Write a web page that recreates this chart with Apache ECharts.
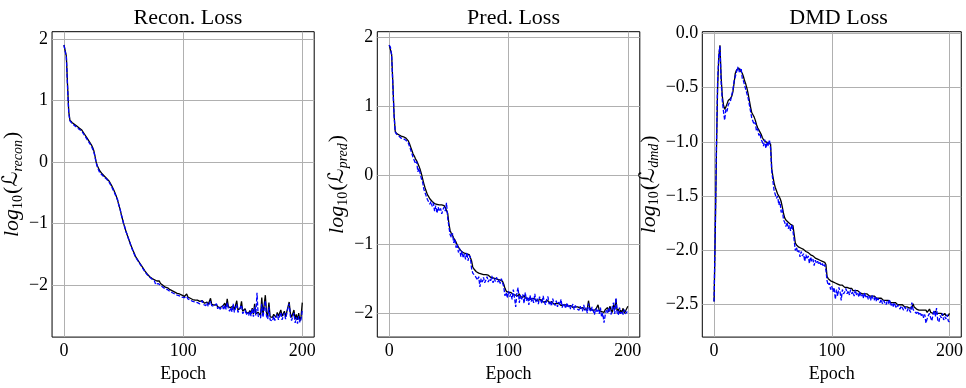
<!DOCTYPE html>
<html>
<head>
<meta charset="utf-8">
<script src="https://cdn.jsdelivr.net/npm/echarts@6/dist/echarts.min.js"></script>
<style>
html,body{margin:0;padding:0;background:#fff;}
#chart{width:966px;height:388px;}
</style>
</head>
<body>
<div id="chart"></div>
<script>
// ---- Data (epochs 0..200) ----
const epochs = Array.from({length: 201}, (_, i) => i);
const xTicks = [0, 100, 200];
const reconTicks = [-2, -1, 0, 1, 2];
const predTicks = [-2, -1, 0, 1, 2];
const dmdTicks = [-2.5, -2.0, -1.5, -1.0, -0.5, 0.0];
const titles = ['Recon. Loss', 'Pred. Loss', 'DMD Loss'];

const reconBlack = [
1.90, 1.88, 1.72, 1.25, 0.82, 0.68,
0.66, 0.64, 0.63, 0.61, 0.60,
0.58, 0.57, 0.55, 0.54, 0.52,
0.49, 0.46, 0.43, 0.40, 0.37,
0.34, 0.31, 0.28, 0.24, 0.19,
0.10, 0.00, -0.06, -0.10, -0.14,
-0.17, -0.19, -0.21, -0.23, -0.25,
-0.27, -0.29, -0.31, -0.34, -0.38,
-0.42, -0.46, -0.51, -0.56, -0.62,
-0.69, -0.76, -0.84, -0.92, -0.99,
-1.06, -1.12, -1.18, -1.23, -1.29,
-1.34, -1.39, -1.44, -1.48, -1.53,
-1.56, -1.59, -1.62, -1.65, -1.68,
-1.71, -1.74, -1.77, -1.79, -1.82,
-1.84, -1.86, -1.87, -1.89, -1.90,
-1.91, -1.92, -1.93, -1.94, -1.93,
-1.97, -1.99, -2.00, -2.01, -2.03, -2.03, -2.04, -2.05, -2.07, -2.08,
-2.09, -2.10, -2.11, -2.12, -2.13, -2.14, -2.14, -2.15, -2.16, -2.16,
-2.18, -2.17, -2.14, -2.19, -2.20, -2.21, -2.20, -2.23, -2.22, -2.24,
-2.25, -2.24, -2.27, -2.26, -2.28, -2.25, -2.22, -2.29, -2.30, -2.27,
-2.31, -2.30, -2.21, -2.31, -2.33, -2.32, -2.34, -2.31, -2.35, -2.33,
-2.36, -2.35, -2.34, -2.37, -2.29, -2.36, -2.22, -2.35, -2.38, -2.36,
-2.39, -2.33, -2.40, -2.38, -2.25, -2.40, -2.41, -2.37, -2.26, -2.42,
-2.43, -2.38, -2.44, -2.42, -2.45, -2.41, -2.46, -2.37, -2.47, -2.30,
-2.46, -2.48, -2.44, -2.47, -2.49, -2.20, -2.48, -2.50, -2.16, -2.45,
-2.50, -2.28, -2.51, -2.49, -2.52, -2.47, -2.50, -2.52, -2.44, -2.50,
-2.45, -2.40, -2.50, -2.53, -2.42, -2.51, -2.48, -2.35, -2.27, -2.45,
-2.52, -2.54, -2.40, -2.55, -2.47, -2.56, -2.45, -2.58, -2.50, -2.28
];
const reconBlue = [
1.90, 1.87, 1.70, 1.22, 0.80, 0.67,
0.65, 0.62, 0.64, 0.59, 0.61,
0.56, 0.58, 0.53, 0.55, 0.50,
0.49, 0.44, 0.44, 0.38, 0.37,
0.32, 0.31, 0.26, 0.24, 0.17,
0.09, -0.01, -0.08, -0.10, -0.17,
-0.16, -0.21, -0.20, -0.25, -0.24,
-0.28, -0.28, -0.33, -0.33, -0.40,
-0.41, -0.48, -0.50, -0.57, -0.61,
-0.70, -0.75, -0.85, -0.91, -1.00,
-1.05, -1.13, -1.17, -1.24, -1.28,
-1.35, -1.38, -1.45, -1.47, -1.54,
-1.55, -1.60, -1.61, -1.66, -1.67,
-1.72, -1.73, -1.78, -1.78, -1.83,
-1.83, -1.87, -1.86, -1.90, -1.89,
-1.93, -1.99, -2.00, -1.97, -1.98,
-2.00, -2.00, -2.03, -2.02, -2.06, -2.04, -2.07, -2.06, -2.10, -2.09,
-2.12, -2.11, -2.14, -2.13, -2.16, -2.15, -2.17, -2.16, -2.19, -2.18,
-2.20, -2.19, -2.18, -2.22, -2.21, -2.24, -2.22, -2.26, -2.23, -2.27,
-2.26, -2.28, -2.27, -2.30, -2.27, -2.25, -2.31, -2.29, -2.33, -2.28,
-2.34, -2.30, -2.26, -2.33, -2.35, -2.34, -2.36, -2.30, -2.38, -2.34,
-2.39, -2.37, -2.33, -2.40, -2.32, -2.39, -2.28, -2.38, -2.42, -2.36,
-2.43, -2.30, -2.44, -2.37, -2.31, -2.44, -2.45, -2.36, -2.32, -2.46,
-2.47, -2.40, -2.48, -2.44, -2.49, -2.42, -2.50, -2.38, -2.51, -2.35,
-2.49, -2.12, -2.50, -2.48, -2.53, -2.30, -2.52, -2.54, -2.25, -2.50,
-2.55, -2.35, -2.56, -2.53, -2.58, -2.50, -2.57, -2.59, -2.47, -2.56,
-2.50, -2.44, -2.56, -2.58, -2.45, -2.55, -2.52, -2.36, -2.30, -2.50,
-2.57, -2.60, -2.45, -2.61, -2.52, -2.62, -2.50, -2.60, -2.55, -2.40
];

const predBlack = [
1.89, 1.87, 1.76, 1.35, 0.90, 0.64,
0.61, 0.60, 0.59, 0.58, 0.57,
0.56, 0.56, 0.55, 0.54, 0.53,
0.50, 0.46, 0.41, 0.36, 0.31,
0.28, 0.24, 0.21, 0.17, 0.13,
0.08, 0.02, -0.05, -0.12, -0.18,
-0.23, -0.28, -0.31, -0.34, -0.36,
-0.38, -0.39, -0.41, -0.40, -0.42,
-0.41, -0.43, -0.44, -0.43, -0.45,
-0.44, -0.47, -0.45, -0.55, -0.70,
-0.80, -0.84, -0.87, -0.91, -0.94,
-0.97, -1.01, -1.04, -1.07, -1.09,
-1.11, -1.12, -1.13, -1.15, -1.14,
-1.16, -1.15, -1.17, -1.24, -1.33,
-1.36, -1.38, -1.40, -1.41, -1.42,
-1.41, -1.43, -1.42, -1.44, -1.45,
-1.44, -1.46, -1.45, -1.47, -1.48, -1.46, -1.49, -1.48, -1.50, -1.49,
-1.51, -1.50, -1.52, -1.51, -1.54, -1.58, -1.64, -1.68, -1.69, -1.70,
-1.71, -1.70, -1.72, -1.73, -1.71, -1.74, -1.73, -1.75, -1.72, -1.76,
-1.75, -1.77, -1.74, -1.78, -1.76, -1.79, -1.77, -1.80, -1.78, -1.79,
-1.81, -1.79, -1.82, -1.80, -1.81, -1.83, -1.80, -1.82, -1.84, -1.82,
-1.83, -1.85, -1.82, -1.84, -1.86, -1.83, -1.85, -1.87, -1.85, -1.86,
-1.88, -1.86, -1.87, -1.89, -1.87, -1.88, -1.90, -1.88, -1.89, -1.90,
-1.91, -1.89, -1.90, -1.92, -1.90, -1.91, -1.93, -1.91, -1.92, -1.93,
-1.94, -1.92, -1.93, -1.95, -1.93, -1.94, -1.82, -1.92, -1.95, -1.93,
-1.96, -1.94, -1.95, -1.97, -1.88, -1.96, -1.94, -1.98, -1.96, -1.99,
-1.95, -1.97, -1.92, -1.98, -1.90, -1.96, -1.99, -1.88, -1.95, -1.80,
-1.97, -1.94, -2.00, -1.96, -1.99, -1.93, -2.00, -1.97, -1.99, -1.90
];
const predBlue = [
1.89, 1.86, 1.74, 1.33, 0.88, 0.63,
0.60, 0.62, 0.57, 0.58, 0.54,
0.56, 0.53, 0.55, 0.51, 0.53,
0.47, 0.45, 0.37, 0.35, 0.26,
0.27, 0.17, 0.20, 0.05, 0.10,
0.02, -0.05, -0.10, -0.20, -0.22,
-0.30, -0.35, -0.33, -0.42, -0.38,
-0.45, -0.40, -0.52, -0.44, -0.55,
-0.46, -0.52, -0.48, -0.56, -0.50,
-0.46, -0.52, -0.40, -0.62, -0.74,
-0.86, -0.90, -0.84, -0.98, -0.92,
-1.05, -1.00, -1.12, -1.06, -1.18,
-1.10, -1.20, -1.14, -1.22, -1.12,
-1.24, -1.16, -1.19, -1.35, -1.42,
-1.40, -1.46, -1.44, -1.52, -1.47,
-1.62, -1.50, -1.55, -1.48, -1.56,
-1.52, -1.47, -1.55, -1.50, -1.53, -1.46, -1.56, -1.50, -1.54, -1.48,
-1.55, -1.51, -1.57, -1.50, -1.52, -1.62, -1.75, -1.70, -1.78, -1.68,
-1.76, -1.72, -1.80, -1.66, -1.78, -1.91, -1.70, -1.63, -1.85, -1.74,
-1.80, -1.73, -1.86, -1.70, -1.82, -1.76, -1.88, -1.74, -1.83, -1.78,
-1.85, -1.72, -1.84, -1.79, -1.87, -1.76, -1.82, -1.86, -1.75, -1.84,
-1.88, -1.80, -1.76, -1.87, -1.83, -1.90, -1.79, -1.85, -1.89, -1.82,
-1.91, -1.84, -1.88, -1.80, -1.92, -1.86, -1.89, -1.93, -1.85, -1.91,
-1.88, -1.94, -1.90, -1.87, -1.95, -1.89, -1.93, -1.91, -1.96, -1.90,
-1.94, -1.97, -1.88, -1.96, -1.92, -2.00, -1.86, -1.95, -1.98, -1.91,
-1.97, -2.02, -1.93, -1.99, -1.95, -2.01, -1.92, -2.06, -2.00, -2.14,
-2.03, -1.96, -2.00, -1.92, -1.97, -2.02, -1.90, -1.85, -2.01, -1.78,
-1.99, -2.03, -1.92, -2.01, -1.97, -2.02, -1.95, -2.01, -1.98, -2.00
];

const dmdBlack = [
-2.47, -1.85, -1.10, -0.50, -0.22, -0.11,
-0.40, -0.58, -0.66, -0.70, -0.68,
-0.65, -0.62, -0.61, -0.60, -0.58,
-0.54, -0.46, -0.37, -0.34, -0.33,
-0.32, -0.34, -0.33, -0.37, -0.40,
-0.44, -0.47, -0.51, -0.56, -0.62,
-0.68, -0.73, -0.75, -0.77, -0.80,
-0.84, -0.87, -0.89, -0.91, -0.93,
-0.96, -0.98, -0.99, -1.00, -0.99,
-1.01, -1.00, -1.02, -1.25, -1.32,
-1.38, -1.42, -1.45, -1.48, -1.50,
-1.52, -1.55, -1.60, -1.66, -1.70,
-1.72, -1.73, -1.74, -1.75, -1.76,
-1.75, -1.77, -1.85, -1.93, -1.95,
-1.96, -1.97, -1.97, -1.98, -1.99,
-1.99, -2.00, -2.01, -2.01, -2.02,
-2.03, -2.04, -2.05, -2.05, -2.06, -2.07, -2.07, -2.08, -2.09, -2.09,
-2.10, -2.10, -2.11, -2.11, -2.13, -2.24, -2.26, -2.27, -2.28, -2.29,
-2.29, -2.30, -2.30, -2.31, -2.31, -2.32, -2.32, -2.33, -2.32, -2.33,
-2.34, -2.33, -2.34, -2.35, -2.35, -2.36, -2.35, -2.37, -2.36, -2.37,
-2.38, -2.37, -2.38, -2.39, -2.38, -2.40, -2.39, -2.40, -2.41, -2.40,
-2.41, -2.42, -2.41, -2.42, -2.43, -2.42, -2.43, -2.44, -2.43, -2.44,
-2.45, -2.44, -2.45, -2.46, -2.45, -2.46, -2.47, -2.46, -2.47, -2.48,
-2.47, -2.48, -2.49, -2.48, -2.49, -2.50, -2.49, -2.50, -2.51, -2.50,
-2.51, -2.52, -2.51, -2.52, -2.52, -2.53, -2.52, -2.53, -2.49, -2.52,
-2.53, -2.54, -2.53, -2.55, -2.54, -2.55, -2.56, -2.55, -2.56, -2.55,
-2.57, -2.56, -2.54, -2.57, -2.56, -2.58, -2.57, -2.56, -2.58, -2.57,
-2.58, -2.59, -2.58, -2.60, -2.59, -2.58, -2.60, -2.59, -2.60, -2.58
];
const dmdBlue = [
-2.47, -1.80, -1.05, -0.45, -0.20, -0.12,
-0.45, -0.62, -0.72, -0.80, -0.70,
-0.72, -0.66, -0.64, -0.62, -0.61,
-0.52, -0.44, -0.40, -0.36, -0.31,
-0.36, -0.37, -0.32, -0.42, -0.44,
-0.48, -0.52, -0.56, -0.60, -0.66,
-0.72, -0.78, -0.79, -0.84, -0.82,
-0.90, -0.88, -0.94, -0.92, -0.98,
-1.00, -1.04, -0.98, -1.06, -1.00,
-1.04, -0.98, -1.06, -1.27, -1.36,
-1.45, -1.44, -1.52, -1.50, -1.58,
-1.55, -1.65, -1.62, -1.72, -1.74,
-1.78, -1.74, -1.80, -1.77, -1.82,
-1.76, -1.82, -1.90, -2.00, -1.97,
-2.02, -2.00, -2.06, -2.01, -2.05,
-2.03, -2.10, -2.04, -2.08, -2.05,
-2.12, -2.06, -2.10, -2.08, -2.14, -2.09, -2.12, -2.10, -2.13, -2.11,
-2.14, -2.12, -2.15, -2.13, -2.18, -2.28, -2.32, -2.30, -2.36, -2.33,
-2.38, -2.34, -2.45, -2.36, -2.42, -2.34, -2.38, -2.46, -2.36, -2.40,
-2.38, -2.35, -2.40, -2.37, -2.41, -2.36, -2.40, -2.38, -2.42, -2.36,
-2.41, -2.39, -2.43, -2.38, -2.42, -2.40, -2.44, -2.39, -2.43, -2.41,
-2.45, -2.42, -2.46, -2.41, -2.44, -2.46, -2.42, -2.47, -2.44, -2.43,
-2.48, -2.45, -2.49, -2.46, -2.48, -2.50, -2.47, -2.49, -2.45, -2.51,
-2.49, -2.52, -2.48, -2.51, -2.53, -2.50, -2.52, -2.54, -2.51, -2.53,
-2.55, -2.52, -2.54, -2.56, -2.53, -2.55, -2.57, -2.48, -2.54, -2.56,
-2.55, -2.58, -2.56, -2.59, -2.57, -2.60, -2.58, -2.62, -2.59, -2.67,
-2.63, -2.60, -2.58, -2.62, -2.65, -2.59, -2.55, -2.61, -2.53, -2.64,
-2.66, -2.60, -2.62, -2.58, -2.64, -2.61, -2.63, -2.59, -2.65, -2.66
];

[reconBlack, reconBlue, predBlack, predBlue, dmdBlack, dmdBlue].forEach((a, k) => {
  if (a.length !== epochs.length) throw new Error('array ' + k + ' has length ' + a.length);
});

// ---- Chart ----
const FONT = "'Liberation Serif', 'DejaVu Serif', serif";
const pair = arr => epochs.map((e, i) => [e, arr[i]]);
const minus = s => String(s).replace('-', '\u2212');

const panels = [
  {left: 51.7, yMin: -2.84, yMax: 2.116, ticks: reconTicks, sub: 'recon', gap: 24, fmt: v => minus(Math.round(v)), black: reconBlack, blue: reconBlue},
  {left: 377.3, yMin: -2.348, yMax: 2.085, ticks: predTicks, sub: 'pred', gap: 25, fmt: v => minus(Math.round(v)), black: predBlack, blue: predBlue},
  {left: 702.3, yMin: -2.798, yMax: 0.0145, ticks: dmdTicks, sub: 'dmd', gap: 37, fmt: v => minus(v.toFixed(1)), black: dmdBlack, blue: dmdBlue}
];
const W = 262.5, TOP = 31.7, H = 311;

const option = {
  animation: false,
  backgroundColor: '#fff',
  title: panels.map((p, i) => ({
    text: titles[i],
    left: p.left + W / 2,
    textAlign: 'center',
    top: 2,
    textStyle: {fontFamily: FONT, fontSize: 22, fontWeight: 'normal', color: '#000'}
  })),
  grid: panels.map(p => ({
    left: p.left, top: TOP, width: W, height: H,
    show: true, borderColor: '#000', borderWidth: 1, backgroundColor: 'transparent'
  })),
  xAxis: panels.map((p, i) => ({
    type: 'value', gridIndex: i, min: -10, max: 210,
    name: 'Epoch', nameLocation: 'middle', nameGap: 24,
    nameTextStyle: {fontFamily: FONT, fontSize: 18, color: '#000'},
    axisLine: {show: false},
    axisTick: {show: false, customValues: xTicks},
    axisLabel: {customValues: xTicks, fontFamily: FONT, fontSize: 18, color: '#000', margin: 5},
    splitLine: {show: true, lineStyle: {color: '#b0b0b0', width: 1}}
  })),
  yAxis: panels.map((p, i) => ({
    type: 'value', gridIndex: i, min: p.yMin, max: p.yMax,
    name: '{i|log}{n|10}{p|(}{L|\u2112}{s|' + p.sub + '}{p|)}',
    nameLocation: 'middle', nameGap: p.gap, nameRotate: 90,
    nameTextStyle: {
      fontFamily: FONT, fontSize: 20, color: '#000',
      rich: {
        i: {fontFamily: FONT, fontStyle: 'italic', fontSize: 22, lineHeight: 26, verticalAlign: 'middle'},
        p: {fontFamily: FONT, fontSize: 22, lineHeight: 26, verticalAlign: 'middle'},
        L: {fontFamily: "'DejaVu Serif', 'DejaVu Sans', serif", fontStyle: 'normal', fontWeight: 'normal', fontSize: 21, lineHeight: 26, verticalAlign: 'middle'},
        n: {fontFamily: FONT, fontSize: 14, lineHeight: 14, verticalAlign: 'bottom', padding: [0, 1, 0, 0]},
        s: {fontFamily: FONT, fontStyle: 'italic', fontSize: 14, lineHeight: 14, verticalAlign: 'bottom', padding: [0, 1, 0, 0]}
      }
    },
    axisLine: {show: false},
    axisTick: {show: false, customValues: p.ticks},
    axisLabel: {customValues: p.ticks, fontFamily: FONT, fontSize: 18, color: '#000', margin: 4, formatter: p.fmt},
    splitLine: {show: true, lineStyle: {color: '#b0b0b0', width: 1}}
  })),
  series: panels.flatMap((p, i) => [
    {type: 'line', xAxisIndex: i, yAxisIndex: i, data: pair(p.black), showSymbol: false, symbol: 'none',
     lineStyle: {color: '#000', width: 1.3, type: 'solid'}, z: 2},
    {type: 'line', xAxisIndex: i, yAxisIndex: i, data: pair(p.blue), showSymbol: false, symbol: 'none',
     lineStyle: {color: '#0000ff', width: 1.3, type: [4, 1.8]}, z: 3}
  ])
};

const chart = echarts.init(document.getElementById('chart'), null, {renderer: 'canvas'});
chart.setOption(option);
</script>
</body>
</html>
